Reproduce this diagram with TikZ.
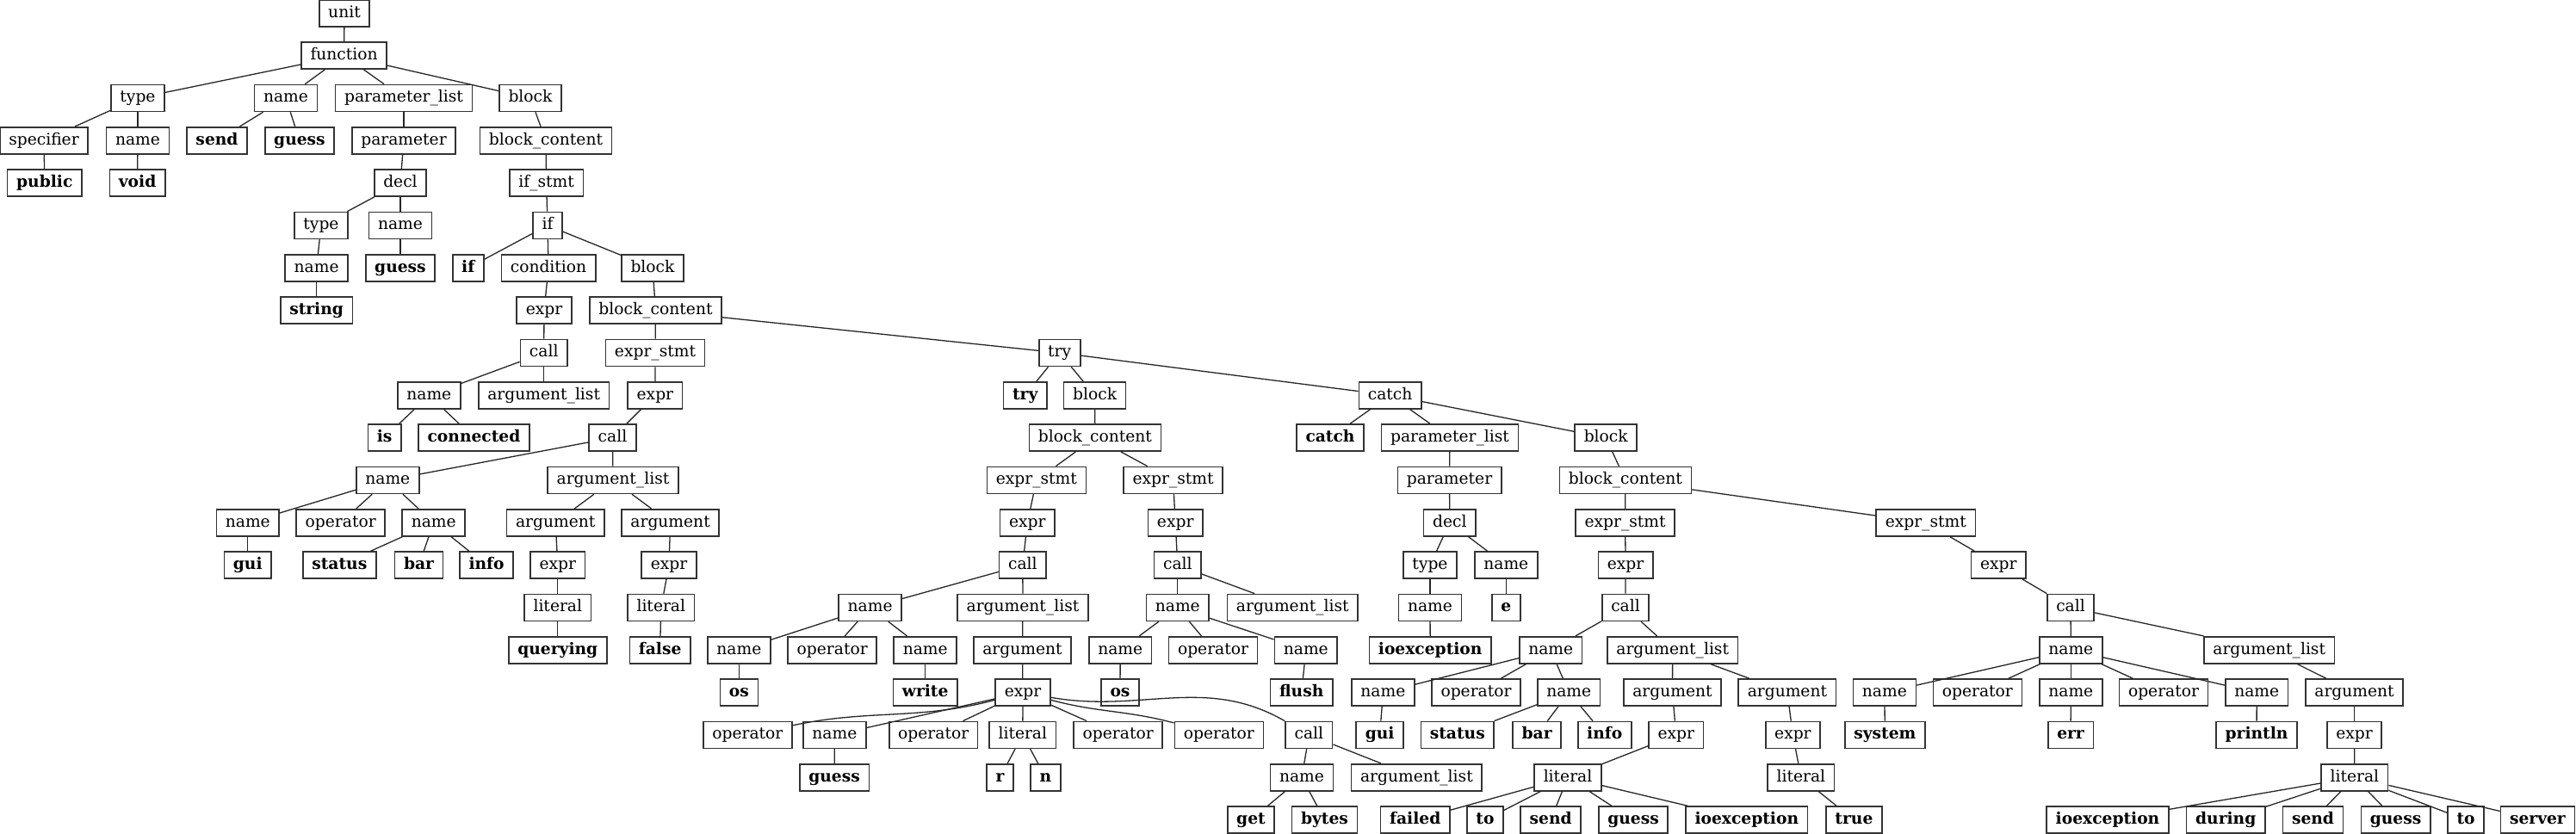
\documentclass[tikz,border=0pt]{standalone}
\usepackage{fontspec}
\setmainfont{DejaVu Serif}
\begin{document}
\begin{tikzpicture}[x=1pt,y=-49.33pt,
  nd/.style={draw=black!80,line width=1.6pt,inner xsep=10.5pt,inner ysep=0pt,minimum height=31pt,text height=14pt,text depth=4.5pt,font=\fontsize{18.67}{22}\selectfont},
  kw/.style={nd,font=\fontsize{18.67}{22}\selectfont\bfseries},
  ed/.style={draw=black!85,line width=1.3pt}]
\useasboundingbox (0,-0.3102) rectangle (2992,19.313);
% row 0-1
\node[nd] (unit) at (400,0) {unit};
\node[nd] (function) at (399.6,1) {function};
% row 2
\node[nd] (type1) at (160,2) {type};
\node[nd] (name1) at (332,2) {name};
\node[nd] (plist1) at (469,2) {parameter\_list};
\node[nd] (block1) at (616,2) {block};
% row 3
\node[nd] (spec) at (51,3) {specifier};
\node[nd] (name2) at (160,3) {name};
\node[kw] (send1) at (252,3) {send};
\node[kw] (guess1) at (348,3) {guess};
\node[nd] (param1) at (469,3) {parameter};
\node[nd] (bc1) at (634,3) {block\_content};
% row 4
\node[kw] (public) at (51.8,4) {public};
\node[kw] (void) at (159.6,4) {void};
\node[nd] (decl1) at (465,4) {decl};
\node[nd] (ifstmt) at (634.6,4) {if\_stmt};
% row 5
\node[nd] (type2) at (373,5) {type};
\node[nd] (name3) at (465,5) {name};
\node[nd] (if1) at (636,5) {if};
% row 6
\node[nd] (name4) at (367.6,6) {name};
\node[kw] (guess2) at (465,6) {guess};
\node[kw] (ifkw) at (543.8,6) {if};
\node[nd] (cond) at (637,6) {condition};
\node[nd] (block2) at (758,6) {block};
% row 7
\node[kw] (string) at (367.6,7) {string};
\node[nd] (expr1) at (632,7) {expr};
\node[nd] (bc2) at (761.5,7) {block\_content};
% row 8
\node[nd] (call1) at (631.7,8) {call};
\node[nd] (es1) at (761,8) {expr\_stmt};
\node[nd] (try1) at (1230.7,8) {try};
% row 9
\node[nd] (name5) at (498.3,9) {name};
\node[nd] (arglist1) at (631.7,9) {argument\_list};
\node[nd] (expr2) at (760.9,9) {expr};
\node[kw] (trykw) at (1190.7,9) {try};
\node[nd] (block3) at (1271.6,9) {block};
\node[nd] (catch1) at (1614.6,9) {catch};
% row 10
\node[kw] (is) at (446.6,10) {is};
\node[kw] (connected) at (550.5,10) {connected};
\node[nd] (call2) at (711.5,10) {call};
\node[nd] (bc3) at (1271.9,10) {block\_content};
\node[kw] (catchkw) at (1545,10) {catch};
\node[nd] (plist2) at (1684,10) {parameter\_list};
\node[nd] (block4) at (1865.2,10) {block};
% row 11
\node[nd] (name6) at (450.3,11) {name};
\node[nd] (arglist2) at (712,11) {argument\_list};
\node[nd] (es2) at (1203.9,11) {expr\_stmt};
\node[nd] (es3) at (1362.6,11) {expr\_stmt};
\node[nd] (param2) at (1683.5,11) {parameter};
\node[nd] (bc4) at (1887.9,11) {block\_content};
% row 12
\node[nd] (name7) at (287.8,12) {name};
\node[nd] (op1) at (395.7,12) {operator};
\node[nd] (name8) at (503.7,12) {name};
\node[nd] (arg1) at (645.2,12) {argument};
\node[nd] (arg2) at (778.6,12) {argument};
\node[nd] (expr3) at (1193.3,12) {expr};
\node[nd] (expr4) at (1365.2,12) {expr};
\node[nd] (decl2) at (1683.8,12) {decl};
\node[nd] (es4) at (1887.6,12) {expr\_stmt};
\node[nd] (es5) at (2236.8,12) {expr\_stmt};
% row 13
\node[kw] (gui1) at (287.8,13) {gui};
\node[kw] (status1) at (394.3,13) {status};
\node[kw] (bar1) at (486.5,13) {bar};
\node[kw] (info1) at (565.1,13) {info};
\node[nd] (expr5) at (647.8,13) {expr};
\node[nd] (expr6) at (777,13) {expr};
\node[nd] (call3) at (1187.8,13) {call};
\node[nd] (call4) at (1367.8,13) {call};
\node[nd] (type3) at (1661,13) {type};
\node[nd] (name9) at (1749.3,13) {name};
\node[nd] (expr7) at (1888.1,13) {expr};
\node[nd] (expr8) at (2321.3,13) {expr};
% row 14
\node[nd] (lit1) at (647.8,14) {literal};
\node[nd] (lit2) at (767.8,14) {literal};
\node[nd] (name10) at (1010.6,14) {name};
\node[nd] (arglist3) at (1188,14) {argument\_list};
\node[nd] (name11) at (1367.8,14) {name};
\node[nd] (arglist4) at (1501.3,14) {argument\_list};
\node[nd] (name12) at (1661,14) {name};
\node[kw] (e) at (1749.3,14) {e};
\node[nd] (call5) at (1888,14) {call};
\node[nd] (call6) at (2405,14) {call};
% row 15
\node[kw] (querying) at (647.8,15) {querying};
\node[kw] (false) at (766.6,15) {false};
\node[nd] (name13) at (858.4,15) {name};
\node[nd] (op2) at (966.7,15) {operator};
\node[nd] (name14) at (1074.7,15) {name};
\node[nd] (arg3) at (1187.5,15) {argument};
\node[nd] (name15) at (1301.2,15) {name};
\node[nd] (op3) at (1409,15) {operator};
\node[nd] (name16) at (1516.8,15) {name};
\node[kw] (ioex1) at (1661.2,15) {ioexception};
\node[nd] (name17) at (1801.2,15) {name};
\node[nd] (arglist5) at (1942.7,15) {argument\_list};
\node[nd] (name18) at (2405.3,15) {name};
\node[nd] (arglist6) at (2635.7,15) {argument\_list};
% row 16
\node[kw] (os1) at (858.4,16) {os};
\node[kw] (write) at (1074.7,16) {write};
\node[nd] (expr9) at (1188,16) {expr};
\node[kw] (os2) at (1301,16) {os};
\node[kw] (flush) at (1511.7,16) {flush};
\node[nd] (name19) at (1606.4,16) {name};
\node[nd] (op4) at (1714.5,16) {operator};
\node[nd] (name20) at (1822.2,16) {name};
\node[nd] (arg4) at (1942.5,16) {argument};
\node[nd] (arg5) at (2075.9,16) {argument};
\node[nd] (name21) at (2188.9,16) {name};
\node[nd] (op5) at (2296.9,16) {operator};
\node[nd] (name22) at (2405.3,16) {name};
\node[nd] (op6) at (2513,16) {operator};
\node[nd] (name23) at (2621.2,16) {name};
\node[nd] (arg6) at (2734.5,16) {argument};
% row 17
\node[nd] (op7) at (868.4,17) {operator};
\node[nd] (name24) at (969.4,17) {name};
\node[nd] (op8) at (1084.2,17) {operator};
\node[nd] (lit3) at (1187.8,17) {literal};
\node[nd] (op9) at (1298.7,17) {operator};
\node[nd] (op10) at (1415.8,17) {operator};
\node[nd] (call7) at (1520.4,17) {call};
\node[kw] (gui2) at (1602.6,17) {gui};
\node[kw] (status2) at (1692.8,17) {status};
\node[kw] (bar2) at (1785.1,17) {bar};
\node[kw] (info2) at (1863.8,17) {info};
\node[nd] (expr10) at (1946.8,17) {expr};
\node[nd] (expr11) at (2082.4,17) {expr};
\node[kw] (system) at (2189.3,17) {system};
\node[kw] (err) at (2405,17) {err};
\node[kw] (println) at (2621,17) {println};
\node[nd] (expr12) at (2734.5,17) {expr};
% row 18
\node[kw] (guess3) at (969.1,18) {guess};
\node[kw] (r) at (1161.5,18) {r};
\node[kw] (n) at (1214.5,18) {n};
\node[nd] (name25) at (1512,18) {name};
\node[nd] (arglist7) at (1645.4,18) {argument\_list};
\node[nd] (lit4) at (1821,18) {literal};
\node[nd] (lit5) at (2091.9,18) {literal};
\node[nd] (lit6) at (2734.8,18) {literal};
% row 19
\node[kw] (get) at (1453,19) {get};
\node[kw] (bytes) at (1538.5,19) {bytes};
\node[kw] (failed) at (1643.7,19) {failed};
\node[kw] (to1) at (1725,19) {to};
\node[kw] (send2) at (1801.1,19) {send};
\node[kw] (guess4) at (1897,19) {guess};
\node[kw] (ioex2) at (2028.8,19) {ioexception};
\node[kw] (true) at (2153.4,19) {true};
\node[kw] (ioex3) at (2448,19) {ioexception};
\node[kw] (during) at (2585.2,19) {during};
\node[kw] (send3) at (2686.5,19) {send};
\node[kw] (guess5) at (2782.6,19) {guess};
\node[kw] (to2) at (2864,19) {to};
\node[kw] (server) at (2947.4,19) {server};
% edges
\foreach \a/\b in {unit/function,function/type1,function/name1,function/plist1,function/block1,
 type1/spec,type1/name2,spec/public,name2/void,name1/send1,name1/guess1,
 plist1/param1,param1/decl1,decl1/type2,decl1/name3,type2/name4,name4/string,name3/guess2,
 block1/bc1,bc1/ifstmt,ifstmt/if1,if1/ifkw,if1/cond,if1/block2,
 cond/expr1,expr1/call1,call1/name5,call1/arglist1,name5/is,name5/connected,
 block2/bc2,bc2/es1,bc2/try1,es1/expr2,expr2/call2,call2/name6,call2/arglist2,
 name6/name7,name6/op1,name6/name8,name7/gui1,name8/status1,name8/bar1,name8/info1,
 arglist2/arg1,arglist2/arg2,arg1/expr5,expr5/lit1,lit1/querying,arg2/expr6,expr6/lit2,lit2/false,
 try1/trykw,try1/block3,try1/catch1,block3/bc3,bc3/es2,bc3/es3,
 es2/expr3,expr3/call3,call3/name10,call3/arglist3,
 name10/name13,name10/op2,name10/name14,name13/os1,name14/write,
 arglist3/arg3,arg3/expr9,expr9/name24,expr9/op8,expr9/lit3,expr9/op9,
 name24/guess3,lit3/r,lit3/n,call7/name25,call7/arglist7,name25/get,name25/bytes,
 es3/expr4,expr4/call4,call4/name11,call4/arglist4,name11/name15,name11/op3,name11/name16,name15/os2,name16/flush,
 catch1/catchkw,catch1/plist2,catch1/block4,plist2/param2,param2/decl2,decl2/type3,decl2/name9,type3/name12,name12/ioex1,name9/e,
 block4/bc4,bc4/es4,bc4/es5,es4/expr7,expr7/call5,call5/name17,call5/arglist5,
 name17/name19,name17/op4,name17/name20,name19/gui2,name20/status2,name20/bar2,name20/info2,
 arglist5/arg4,arglist5/arg5,arg4/expr10,expr10/lit4,lit4/failed,lit4/to1,lit4/send2,lit4/guess4,lit4/ioex2,
 arg5/expr11,expr11/lit5,lit5/true,
 es5/expr8,expr8/call6,call6/name18,call6/arglist6,
 name18/name21,name18/op5,name18/name22,name18/op6,name18/name23,name21/system,name22/err,name23/println,
 arglist6/arg6,arg6/expr12,expr12/lit6,lit6/ioex3,lit6/during,lit6/send3,lit6/guess5,lit6/to2,lit6/server}
 \draw[ed] (\a) -- (\b);
\draw[ed] (expr9) to[out=195,in=12] (op7);
\draw[ed] (expr9) to[out=-15,in=165] (op10);
\draw[ed] (expr9) to[out=-10,in=150] (call7);
\end{tikzpicture}
\end{document}
